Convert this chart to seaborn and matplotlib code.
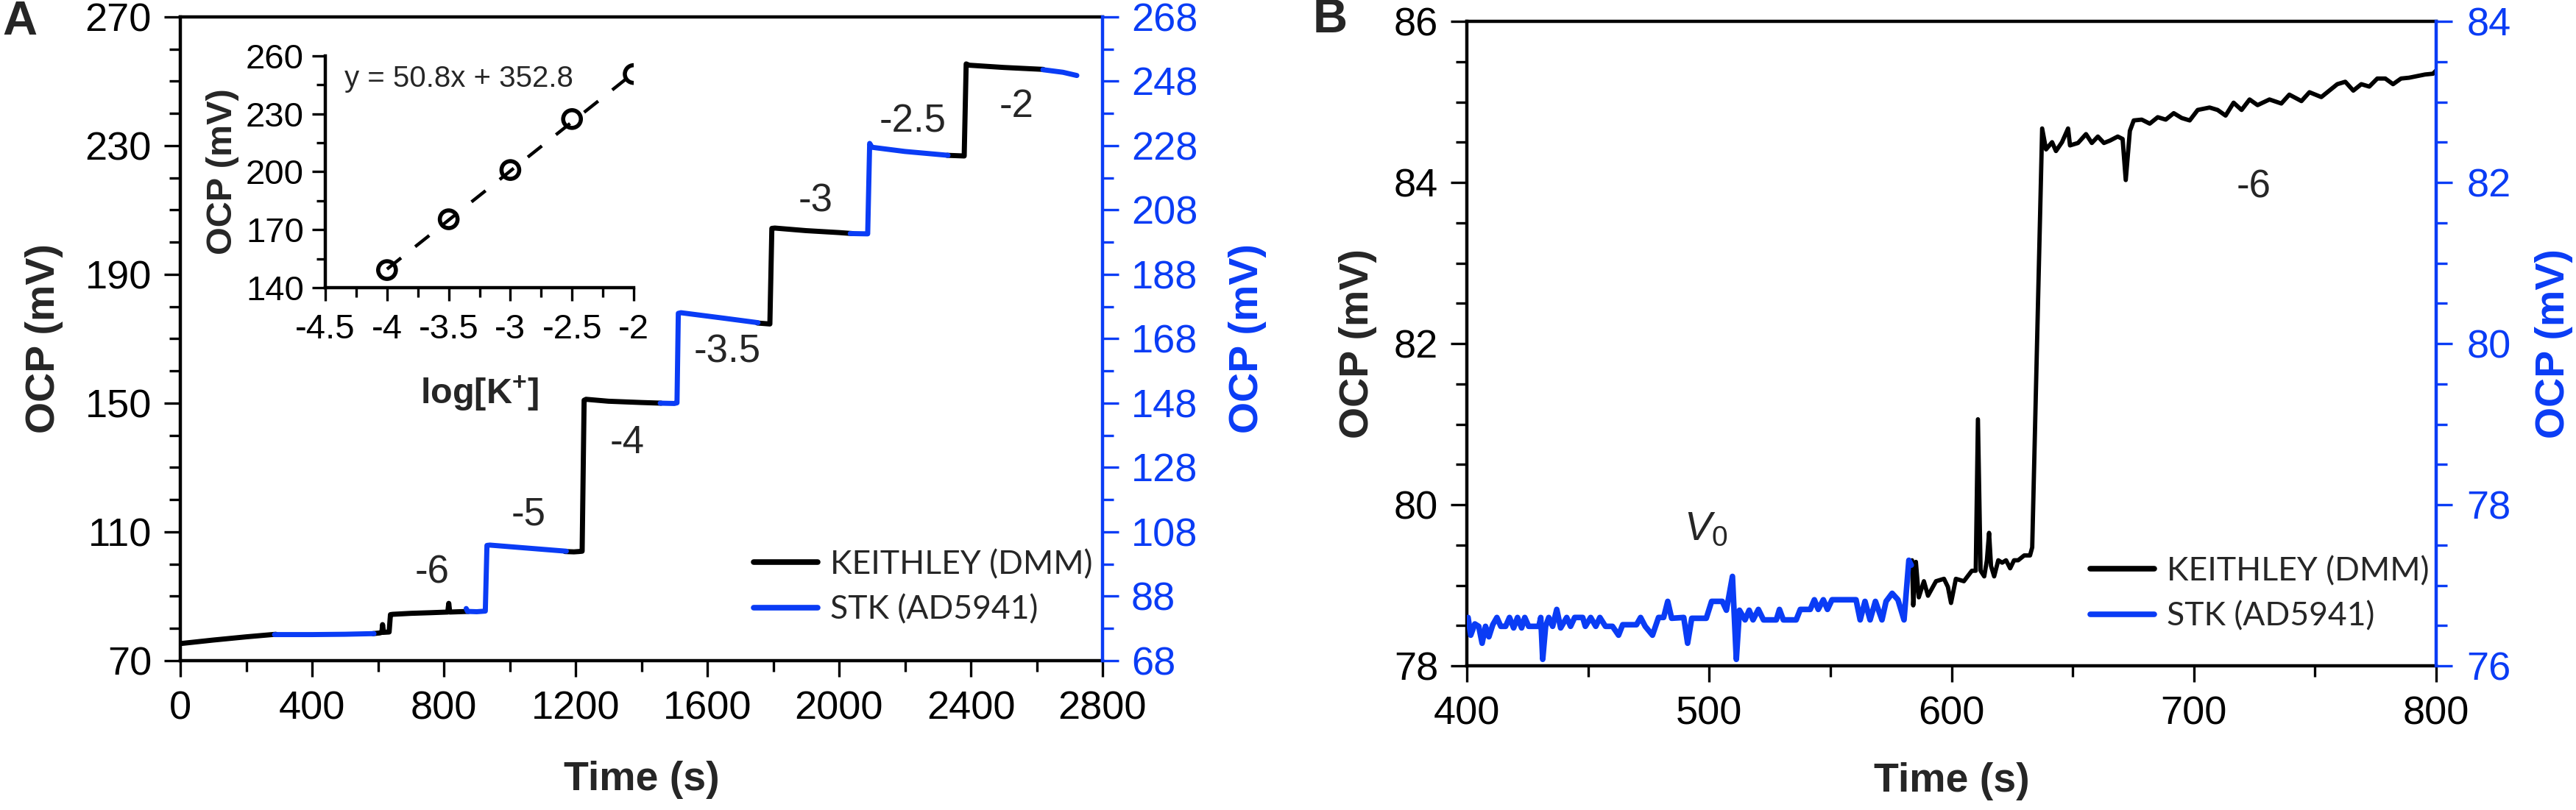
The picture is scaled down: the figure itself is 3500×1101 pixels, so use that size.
import numpy as np
import pandas as pd
import seaborn as sns
import matplotlib
matplotlib.use("Agg")
import matplotlib.pyplot as plt
from matplotlib.ticker import MultipleLocator, FuncFormatter
from matplotlib.lines import Line2D

BLUE = "#0A3CF5"

# ---------------- Panel A data (time s, OCP mV) ----------------
# KEITHLEY (left axis), visible segments
a_black_t = [
    [0, 100, 200, 290],
    [585, 605, 612, 614, 617, 634, 638, 645, 700, 760, 812, 815, 818, 875],
    [1168, 1195, 1210, 1220, 1226, 1232, 1300, 1400, 1460],
    [1752, 1790, 1796, 1805, 1900, 2000, 2040],
    [2328, 2380, 2386, 2395, 2500, 2620],
]
a_black_v = [
    [75.3, 76.4, 77.4, 78.2],
    [78.4, 78.6, 78.8, 81.2, 78.8, 78.9, 84.3, 84.4, 84.7, 84.9, 85.1, 87.8, 85.1, 85.3],
    [103.9, 103.8, 103.9, 104.0, 150.9, 151.2, 150.6, 150.2, 150.0],
    [174.9, 174.6, 204.3, 204.4, 203.6, 203.0, 202.7],
    [227.0, 226.8, 255.4, 255.0, 254.3, 253.7],
]
# STK (right axis)
a_blue_t = [
    [286, 400, 500, 588],
    [868, 872, 900, 926, 931, 940, 1050, 1172],
    [1457, 1500, 1508, 1512, 1520, 1650, 1754],
    [2034, 2087, 2093, 2100, 2200, 2331],
    [2619, 2680, 2722],
]
a_blue_v = [
    [76.1, 76.1, 76.2, 76.4],
    [84.2, 83.3, 83.2, 83.4, 103.8, 103.9, 103.0, 102.0],
    [148.0, 147.9, 148.1, 175.9, 176.1, 174.4, 173.0],
    [200.7, 200.6, 228.7, 227.5, 226.2, 225.0],
    [251.6, 250.8, 249.8],
]
a_step_labels = ["-6", "-5", "-4", "-3.5", "-3", "-2.5", "-2"]
a_step_label_t = [764, 1058, 1356, 1660, 1928, 2223, 2538]
a_step_label_v = [97.2, 115.3, 137.7, 165.8, 212.8, 237.5, 242.1]

# Inset calibration
inset_logk = [-4.0, -3.5, -3.0, -2.5, -2.0]
inset_ocp = [149.1, 175.4, 200.9, 227.3, 250.6]
fit_x = [-4.0, -2.0]
fit_y = [149.6, 251.2]

# ---------------- Panel B data ----------------
b_blue_t = [400.5, 401.6, 403.3, 404.9, 406.3, 407.7, 409.1, 410.7, 412.4, 414.0,
            416.0, 417.6, 419.3, 420.9, 422.6, 423.9, 425.5, 429.7, 430.5, 431.3,
            432.5, 433.8, 435.4, 437.1, 438.7, 441.2, 442.8, 444.5, 447.8, 448.9,
            451.1, 453.2, 454.9, 457.2, 460.1, 462.6, 464.3, 470.0, 471.7, 473.6,
            476.6, 479.1, 481.2, 482.9, 484.5, 489.5, 491.1, 492.8, 498.8, 501.0,
            505.4, 507.1, 509.6, 511.2, 512.5, 514.8, 516.5, 518.1, 520.3, 522.4,
            527.7, 529.0, 530.6, 535.9, 537.6, 541.7, 543.4, 545.0, 547.1, 548.8,
            550.7, 560.6, 562.3, 564.3, 566.4, 568.6, 571.3, 573.0, 575.5, 577.9,
            580.4, 582.4, 583.4]
b_blue_v = [76.60, 76.38, 76.52, 76.49, 76.28, 76.49, 76.36, 76.51, 76.60, 76.49,
            76.49, 76.60, 76.47, 76.60, 76.47, 76.60, 76.49, 76.49, 76.60, 76.08,
            76.49, 76.60, 76.49, 76.70, 76.47, 76.60, 76.49, 76.60, 76.60, 76.49,
            76.60, 76.49, 76.60, 76.49, 76.49, 76.38, 76.51, 76.51, 76.60, 76.49,
            76.38, 76.60, 76.60, 76.80, 76.59, 76.60, 76.28, 76.59, 76.59, 76.80,
            76.80, 76.69, 77.11, 76.08, 76.69, 76.57, 76.69, 76.57, 76.70, 76.57,
            76.57, 76.70, 76.57, 76.57, 76.70, 76.70, 76.82, 76.70, 76.82, 76.70,
            76.82, 76.82, 76.57, 76.80, 76.57, 76.80, 76.57, 76.80, 76.90, 76.82,
            76.57, 77.31, 77.25]
b_black_t = [583.7, 584.2, 585.3, 586.5, 588.6, 590.3, 593.6, 596.9, 598.5, 599.8,
             601.8, 605.1, 608.4, 610.0, 610.9, 612.0, 613.5, 614.6, 615.5, 616.3,
             617.6, 619.3, 620.9, 622.5, 624.2, 625.8, 627.5, 630.0, 632.4, 633.3,
             637.4, 639.0, 641.5, 643.1, 645.6, 648.1, 648.9, 652.2, 655.5, 657.9,
             660.4, 662.9, 665.4, 668.6, 670.6, 671.9, 673.6, 675.2, 678.5, 681.8,
             685.1, 688.4, 691.7, 695.0, 698.3, 701.6, 706.5, 709.8, 713.1, 716.4,
             719.7, 723.0, 726.3, 731.2, 736.1, 739.4, 744.4, 747.7, 752.6, 755.9,
             759.2, 762.5, 765.8, 769.1, 772.4, 775.7, 779.0, 782.2, 785.5, 788.8,
             792.1, 795.4, 798.7, 800.0]
b_black_v = [79.31, 78.75, 79.29, 78.85, 79.05, 78.87, 79.05, 79.08, 78.98, 78.78,
             79.08, 79.05, 79.18, 79.18, 81.06, 79.18, 79.11, 79.31, 79.65, 79.24,
             79.11, 79.31, 79.28, 79.31, 79.21, 79.31, 79.31, 79.37, 79.37, 79.47,
             84.67, 84.41, 84.50, 84.39, 84.50, 84.67, 84.46, 84.49, 84.60, 84.49,
             84.57, 84.49, 84.52, 84.57, 84.54, 84.03, 84.64, 84.77, 84.78, 84.73,
             84.81, 84.78, 84.86, 84.80, 84.77, 84.90, 84.93, 84.90, 84.83, 84.99,
             84.90, 85.03, 84.96, 85.03, 84.98, 85.09, 85.01, 85.12, 85.06, 85.14,
             85.22, 85.25, 85.14, 85.22, 85.19, 85.29, 85.29, 85.22, 85.29, 85.30,
             85.32, 85.34, 85.35, 85.39]

legend_labels = ["KEITHLEY (DMM)", "STK (AD5941)"]


def seg_frame(ts, vs):
    rows = []
    for i, (t, v) in enumerate(zip(ts, vs)):
        rows.append(pd.DataFrame({"t": t, "v": v, "seg": i}))
    return pd.concat(rows, ignore_index=True)


sns.set_theme(style="ticks")
plt.rcParams["font.family"] = ["Liberation Sans", "DejaVu Sans"]
plt.rcParams["axes.unicode_minus"] = False
plt.rcParams["mathtext.fontset"] = "custom"
plt.rcParams["mathtext.rm"] = "Liberation Sans"
plt.rcParams["mathtext.it"] = "Liberation Sans:italic"
plt.rcParams["mathtext.bf"] = "Liberation Sans:bold"

TICK = 39
LAB = 40
SPW = 3.2

fig = plt.figure(figsize=(35, 11.01), dpi=100)
fig.patch.set_facecolor("white")


def style_axes(ax):
    for s in ax.spines.values():
        s.set_linewidth(SPW)
        s.set_color("black")
    ax.tick_params(which="both", direction="out", width=2.4, colors="black", labelsize=TICK)
    ax.tick_params(which="major", length=16)
    ax.tick_params(which="minor", length=11)


# ================= Panel A =================
ax1 = fig.add_axes([0.0700, 0.18438, 0.3580, 0.79473])
ax1r = ax1.twinx()

sns.lineplot(data=seg_frame(a_black_t, a_black_v), x="t", y="v", units="seg",
             estimator=None, sort=False, color="black", lw=5, ax=ax1, legend=False)
sns.lineplot(data=seg_frame(a_blue_t, a_blue_v), x="t", y="v", units="seg",
             estimator=None, sort=False, color=BLUE, lw=5, ax=ax1r, legend=False)

ax1.set_xlim(0, 2800)
ax1.set_ylim(70, 270)
ax1r.set_ylim(68, 268)
ax1.xaxis.set_major_locator(MultipleLocator(400))
ax1.xaxis.set_minor_locator(MultipleLocator(200))
ax1.yaxis.set_major_locator(MultipleLocator(40, offset=30))
ax1.yaxis.set_minor_locator(MultipleLocator(10))
ax1r.yaxis.set_major_locator(MultipleLocator(20, offset=8))
ax1r.yaxis.set_minor_locator(MultipleLocator(10, offset=8))

style_axes(ax1)
style_axes(ax1r)
ax1.spines["right"].set_visible(False)
ax1r.spines["left"].set_visible(False)
ax1r.spines["top"].set_visible(False)
ax1r.spines["bottom"].set_visible(False)
ax1r.spines["right"].set_color(BLUE)
ax1r.tick_params(axis="y", which="both", colors=BLUE, labelcolor=BLUE, pad=12)
ax1.tick_params(axis="x", pad=13)
ax1.tick_params(axis="y", pad=12)

ax1.set_xlabel("Time (s)", fontsize=LAB, fontweight="bold")
ax1.set_ylabel("OCP (mV)", fontsize=LAB, fontweight="bold")
ax1r.set_ylabel("OCP (mV)", fontsize=LAB, fontweight="bold", color=BLUE)
ax1.xaxis.set_label_coords(0.5, -0.185)
ax1.xaxis.label.set_va("center")
ax1.yaxis.set_label_coords(-0.148, 0.5)
ax1.yaxis.label.set_va("center")
ax1r.yaxis.set_label_coords(1.157, 0.5)
ax1r.yaxis.label.set_va("center")
ax1r.yaxis.label.set_rotation(90)

for lab, t, v in zip(a_step_labels, a_step_label_t, a_step_label_v):
    ax1.text(t, v, lab, fontsize=38, ha="center", va="center")

handles = [Line2D([], [], color="black", lw=5.5), Line2D([], [], color=BLUE, lw=5.5)]
ax1r.legend(handles, legend_labels, loc="center left",
            bbox_to_anchor=(1024 / 3500, 1 - 798 / 1101), bbox_transform=fig.transFigure,
            frameon=False, borderpad=0, borderaxespad=0, handlelength=1.95,
            handletextpad=0.4, labelspacing=0.45,
            prop={"family": "Lato", "size": 32})

# Inset
axi = fig.add_axes([0.1263, 0.6449, 0.1197, 0.2861])
axi.set_facecolor("none")
sns.lineplot(x=fit_x, y=fit_y, ax=axi, color="black", lw=3.2, linestyle=(0, (5.5, 5.5)),
             legend=False)
sns.scatterplot(x=inset_logk, y=inset_ocp, ax=axi, marker="o", s=300,
                facecolor="none", edgecolor="black", linewidth=4, legend=False, zorder=3)
axi.set_xlim(-4.5, -2)
axi.set_ylim(140, 260)
axi.xaxis.set_major_locator(MultipleLocator(0.5))
axi.xaxis.set_minor_locator(MultipleLocator(0.25))
axi.yaxis.set_major_locator(MultipleLocator(30, offset=20))
axi.yaxis.set_minor_locator(MultipleLocator(15, offset=5))
axi.xaxis.set_major_formatter(FuncFormatter(lambda v, p: f"{v:g}"))
axi.spines["top"].set_visible(False)
axi.spines["right"].set_visible(False)
for s in ("left", "bottom"):
    axi.spines[s].set_linewidth(SPW)
    axi.spines[s].set_color("black")
axi.tick_params(which="both", direction="out", width=2.4, colors="black", labelsize=34)
axi.tick_params(which="major", length=13)
axi.tick_params(which="minor", length=9)
axi.tick_params(axis="x", pad=12)
axi.tick_params(axis="y", pad=8)
axi.set_xlabel(r"log[K$^{\mathbf{+}}$]", fontsize=35, fontweight="bold")
axi.set_ylabel("OCP (mV)", fontsize=35, fontweight="bold")
axi.xaxis.set_label_coords(0.5, -0.457)
axi.xaxis.label.set_va("center")
axi.yaxis.set_label_coords(-0.332, 0.5)
axi.yaxis.label.set_va("center")
axi.text(-4.345, 248.2, "y = 50.8x + 352.8", fontsize=29, ha="left", va="center")

# ================= Panel B =================
ax2 = fig.add_axes([0.56943, 0.17802, 0.37629, 0.79564])
ax2r = ax2.twinx()
sns.lineplot(x=b_black_t, y=b_black_v, ax=ax2, color="black", lw=4.2, sort=False,
             estimator=None, legend=False)
sns.lineplot(x=b_blue_t, y=b_blue_v, ax=ax2r, color=BLUE, lw=5.5, sort=False,
             estimator=None, legend=False)
ax2.set_xlim(400, 800)
ax2.set_ylim(78, 86)
ax2r.set_ylim(76, 84)
ax2.xaxis.set_major_locator(MultipleLocator(100))
ax2.xaxis.set_minor_locator(MultipleLocator(50))
ax2.yaxis.set_major_locator(MultipleLocator(2))
ax2.yaxis.set_minor_locator(MultipleLocator(0.5))
ax2r.yaxis.set_major_locator(MultipleLocator(2))
ax2r.yaxis.set_minor_locator(MultipleLocator(0.5))
style_axes(ax2)
style_axes(ax2r)
ax2.spines["right"].set_visible(False)
ax2r.spines["left"].set_visible(False)
ax2r.spines["top"].set_visible(False)
ax2r.spines["bottom"].set_visible(False)
ax2r.spines["right"].set_color(BLUE)
ax2r.tick_params(axis="y", which="both", colors=BLUE, labelcolor=BLUE, pad=14)
ax2.tick_params(axis="x", pad=13)
ax2.tick_params(axis="y", pad=12)

ax2.set_xlabel("Time (s)", fontsize=LAB, fontweight="bold")
ax2.set_ylabel("OCP (mV)", fontsize=LAB, fontweight="bold")
ax2r.set_ylabel("OCP (mV)", fontsize=LAB, fontweight="bold", color=BLUE)
ax2.xaxis.set_label_coords(0.5, -0.179)
ax2.xaxis.label.set_va("center")
ax2.yaxis.set_label_coords(-0.112, 0.5)
ax2.yaxis.label.set_va("center")
ax2r.yaxis.set_label_coords(1.1215, 0.5)
ax2r.yaxis.label.set_va("center")
ax2r.yaxis.label.set_rotation(90)

ax2.text(498.7, 79.69, r"$\mathit{V}_{\mathit{0}}$", fontsize=40, ha="center", va="center")
ax2.text(724.7, 83.94, "-6", fontsize=38, ha="center", va="center")

handles2 = [Line2D([], [], color="black", lw=5.5), Line2D([], [], color=BLUE, lw=5.5)]
ax2r.legend(handles2, legend_labels, loc="center left",
            bbox_to_anchor=(2840 / 3500, 1 - 807 / 1101), bbox_transform=fig.transFigure,
            frameon=False, borderpad=0, borderaxespad=0, handlelength=1.95,
            handletextpad=0.4, labelspacing=0.45,
            prop={"family": "Lato", "size": 32})

# Panel letters
fig.text(0.0077, 0.9728, "A", fontsize=47, fontweight="bold", ha="center", va="center")
fig.text(0.5163, 0.9755, "B", fontsize=47, fontweight="bold", ha="center", va="center")

fig.savefig("out.png", dpi=100, facecolor="white")
